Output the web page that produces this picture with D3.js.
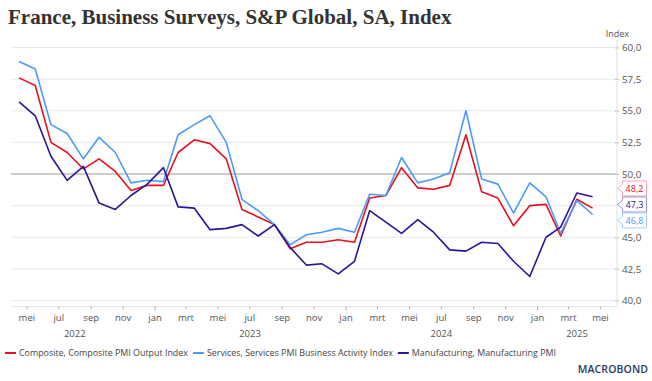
<!DOCTYPE html>
<html><head><meta charset="utf-8">
<script src="https://cdn.jsdelivr.net/npm/d3@7"></script>
<style>body{margin:0;background:#fff} svg{display:block}</style>
</head><body><svg id="c" width="652" height="381"></svg>
<script>
const months = ["2022-04","2022-05","2022-06","2022-07","2022-08","2022-09","2022-10","2022-11","2022-12",
"2023-01","2023-02","2023-03","2023-04","2023-05","2023-06","2023-07","2023-08","2023-09","2023-10","2023-11","2023-12",
"2024-01","2024-02","2024-03","2024-04","2024-05","2024-06","2024-07","2024-08","2024-09","2024-10","2024-11","2024-12",
"2025-01","2025-02","2025-03","2025-04"];
const composite = [57.6,57.0,52.5,51.7,50.4,51.2,50.2,48.7,49.1,
49.1,51.7,52.7,52.4,51.2,47.2,46.6,46.0,44.1,44.6,44.6,44.8,
44.6,48.1,48.3,50.5,48.9,48.8,49.1,53.1,48.6,48.1,45.9,47.5,
47.6,45.1,48.0,47.3];
const services = [58.9,58.3,53.9,53.2,51.2,52.9,51.7,49.3,49.5,
49.4,53.1,53.9,54.6,52.5,48.0,47.1,46.0,44.4,45.2,45.4,45.7,
45.4,48.4,48.3,51.3,49.3,49.6,50.1,55.0,49.6,49.2,46.9,49.3,
48.2,45.3,47.9,46.8];
const manufacturing = [55.7,54.6,51.4,49.5,50.6,47.7,47.2,48.3,49.2,
50.5,47.4,47.3,45.6,45.7,46.0,45.1,46.0,44.2,42.8,42.9,42.1,
43.1,47.1,46.2,45.3,46.4,45.4,44.0,43.9,44.6,44.5,43.1,41.9,
45.0,45.8,48.5,48.2];
const seriesNames = ["Composite, Composite PMI Output Index","Services, Services PMI Business Activity Index","Manufacturing, Manufacturing PMI"];
const yTicks = [40,42.5,45,47.5,50,52.5,55,57.5,60];
const monthNames = ["jan","feb","mrt","apr","mei","jun","jul","aug","sep","okt","nov","dec"];
const years = [2022,2023,2024,2025];

const colors = {composite:"#e8101e", services:"#4a9bf7", manufacturing:"#2c1497"};
const boxStroke = {composite:"#f7a3aa", services:"#a9cdfb", manufacturing:"#9b8fd0"};

const svg = d3.select("#c");
const L = 11, R = 617, T = 47.5, B = 300.5;
const FONT = "'Open Sans', sans-serif";

const dates = months.map(m => { const [yy,mo] = m.split("-").map(Number); return new Date(yy, mo, 1); });
const x = d3.scaleTime().domain([new Date(2022,3,15,16), new Date(2025,5,16,16)]).range([L,R]);
const y = d3.scaleLinear().domain([40,60]).range([B,T]);
const fmt = v => d3.format(".1f")(v).replace(".", ",");

// end label layout (computed first, so axis labels under boxes can be hidden)
const series = [["composite",composite],["services",services],["manufacturing",manufacturing]];
const boxOrder = ["composite","manufacturing","services"];
const lastVals = series.map(s => s[1][s[1].length-1]).sort((a,b)=>b-a);
const h = 16;
const meanY = d3.mean(lastVals, v => y(v));
const boxes = lastVals.map((v,i) => ({v, k: boxOrder[i], cy: meanY - 2 + (i - (lastVals.length-1)/2) * h}));
const boxTop = boxes[0].cy - h/2, boxBot = boxes[boxes.length-1].cy + h/2;

// title
svg.append("text").attr("x",8).attr("y",24)
  .attr("font-family","'Liberation Serif', serif").attr("font-weight","bold")
  .attr("font-size",21).attr("fill","#333")
  .text("France, Business Surveys, S&P Global, SA, Index");

// grid
svg.append("g").selectAll("line").data(yTicks).join("line")
  .attr("x1",L).attr("x2",R).attr("y1",d=>y(d)).attr("y2",d=>y(d))
  .attr("stroke",d=> d===50 ? "#9a9a9a" : "#e8e8e8").attr("stroke-width",1);

// right axis
const visibleTicks = yTicks.filter(t => y(t) < boxTop - 4 || y(t) > boxBot + 4);
const yAxis = d3.axisRight(y).tickValues(visibleTicks).tickFormat(fmt).tickSize(4).tickPadding(3);
const ga = svg.append("g").attr("transform",`translate(${R-2},0)`).call(yAxis);
ga.select(".domain").remove();
ga.selectAll(".tick line").attr("stroke","#bbb");
ga.selectAll(".tick text").attr("fill","#555").attr("font-size",9.8).attr("font-family",FONT);
svg.append("line").attr("x1",R).attr("x2",R).attr("y1",40).attr("y2",306.5).attr("stroke","#e0e0e0");
svg.append("text").attr("x",629).attr("y",37).attr("text-anchor","end")
  .attr("font-family",FONT).attr("font-size",9).attr("fill","#555").text("Index");

// bottom axis
svg.append("line").attr("x1",L).attr("x2",R).attr("y1",306.5).attr("y2",306.5).attr("stroke","#e6e6e6");
const labelDates = [];
for (let yy = 2022; yy <= 2025; yy++) for (let m = 0; m < 12; m += 2) {
  const d = new Date(yy, m, 15);
  if (x(d) > L && x(d) < R) labelDates.push(d);
}
const xAxis = d3.axisBottom(x).tickValues(labelDates).tickFormat(d => monthNames[d.getMonth()]).tickSize(3).tickPadding(5);
const gx = svg.append("g").attr("transform","translate(0,306.5)").call(xAxis);
gx.select(".domain").remove();
gx.selectAll(".tick line").attr("stroke","#aaa").attr("y2", d => d.getMonth()===0 ? 4 : 2.5);
gx.selectAll(".tick text").attr("fill","#555").attr("font-size",9.5).attr("font-family",FONT);

// year labels
svg.append("g").selectAll("text").data(years).join("text")
  .attr("x", yy => {
    const a = Math.max(L - 16, x(new Date(yy,0,15))), b = Math.min(R, x(new Date(yy+1,0,15)));
    return (a+b)/2;
  })
  .attr("y",337).attr("text-anchor","middle").attr("fill","#555").attr("font-size",9.5)
  .attr("font-family",FONT).text(d=>d);

// lines
const line = d3.line().x((d,i)=>x(dates[i])).y(d=>y(d));
series.forEach(([k,v]) => {
  svg.append("path").datum(v).attr("d",line).attr("fill","none")
    .attr("stroke",colors[k]).attr("stroke-width",1.6).attr("stroke-linejoin","round");
});

// end label boxes
boxes.forEach(({v,k,cy}) => {
  const top = cy - h/2, bot = cy + h/2, bx = 622.5, bw = 24;
  svg.append("path")
    .attr("d",`M${bx},${top+0.5} L${bx},${cy-4} L${R+0.5},${cy} L${bx},${cy+4} L${bx},${bot-0.5} L${bx+bw},${bot-0.5} L${bx+bw},${top+0.5} Z`)
    .attr("fill","#fff").attr("stroke",boxStroke[k]).attr("stroke-width",1);
  svg.append("text").attr("x",bx+bw/2).attr("y",cy+3.3).attr("text-anchor","middle")
    .attr("font-family",FONT).attr("font-size",9).attr("fill",colors[k]).text(fmt(v));
});

// legend
const legKeys = ["composite","services","manufacturing"];
let lx = 5;
legKeys.forEach((k,i) => {
  svg.append("line").attr("x1",lx).attr("x2",lx+11).attr("y1",353).attr("y2",353)
    .attr("stroke",colors[k]).attr("stroke-width",2);
  const t = svg.append("text").attr("x",lx+14).attr("y",356.3).attr("fill","#444")
    .attr("font-family",FONT).attr("font-size",8.9).text(seriesNames[i]);
  lx += 14 + t.node().getComputedTextLength() + 5;
});

// logo
svg.append("text").attr("x",648).attr("y",373).attr("text-anchor","end")
  .attr("font-family",FONT).attr("font-weight",600).attr("font-size",10.5)
  .attr("letter-spacing",0.1).attr("fill","#1f3a64").text("MACROBOND");
</script></body></html>
